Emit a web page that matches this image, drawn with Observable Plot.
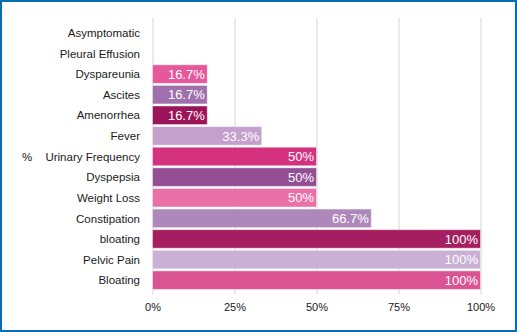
<!DOCTYPE html>
<html>
<head>
<meta charset="utf-8">
<script src="https://cdn.jsdelivr.net/npm/d3@7"></script>
<script src="https://cdn.jsdelivr.net/npm/@observablehq/plot@0.6"></script>
<style>
  html, body { margin: 0; padding: 0; background: #fff; }
  #wrap { position: relative; width: 517px; height: 332px; overflow: hidden; }
  #wrap svg { display: block; }
  #border { position: absolute; left: 0; top: 0; width: 517px; height: 332px; box-sizing: border-box; border: 2px solid #0a6db3; pointer-events: none; }
</style>
</head>
<body>
<div id="wrap"><div id="border"></div></div>
<script>
const categories = ["Asymptomatic", "Pleural Effusion", "Dyspareunia", "Ascites", "Amenorrhea", "Fever", "Urinary Frequency", "Dyspepsia", "Weight Loss", "Constipation", "bloating", "Pelvic Pain", "Bloating"];
const values = [0, 0, 16.7, 16.7, 16.7, 33.3, 50, 50, 50, 66.7, 100, 100, 100];
const valueLabels = ["", "", "16.7%", "16.7%", "16.7%", "33.3%", "50%", "50%", "50%", "66.7%", "100%", "100%", "100%"];
const colors = ["#e8559a", "#e8559a", "#e6579b", "#a070ad", "#9b1459", "#c4a0cc", "#d4317f", "#944f94", "#ea70a7", "#ae88bb", "#a51e60", "#cbb0d6", "#da5493"];
const xTicks = [0, 25, 50, 75, 100];
const xTickLabels = ["0%", "25%", "50%", "75%", "100%"];
const axisTitle = "%";
const titleRow = "Urinary Frequency";

const data = categories.map((c, i) => ({category: c, value: values[i], label: valueLabels[i], color: colors[i]}));

const font = "'Liberation Sans', Arial, Helvetica, sans-serif";

const chart = Plot.plot({
  width: 517,
  height: 332,
  marginLeft: 152.5,
  marginRight: 36.5,
  marginTop: 21.5,
  marginBottom: 40.5,
  style: {fontFamily: font, fontSize: "11px", color: "#222", background: "transparent"},
  x: {domain: [0, 100]},
  y: {domain: categories, padding: 0.1, round: false},
  marks: [
    Plot.ruleX(xTicks, {stroke: "#e3e3e3", strokeWidth: 1.5, insetTop: -3.5, insetBottom: -3}),
    Plot.barX(data, {y: "category", x: "value", fill: "color", stroke: "#fff", strokeOpacity: 0.45, strokeWidth: 1}),
    Plot.text(data.filter(d => d.label), {y: "category", x: "value", text: "label", fill: "white", textAnchor: "end", dx: -3, fontSize: 13}),
    Plot.axisY({tickSize: 0, tickPadding: 13, fontSize: 11.5, label: null, fill: "#1a1a1a"}),
    Plot.text([titleRow], {y: d => d, text: () => axisTitle, frameAnchor: "left", dx: -131, fontSize: 11.5, fill: "#1a1a1a", textAnchor: "start"}),
    Plot.axisX({ticks: xTicks, tickFormat: (d, i) => xTickLabels[i], tickSize: 0, tickPadding: 11, fontSize: 11, label: null, fill: "#1a1a1a"})
  ]
});
document.getElementById("wrap").prepend(chart);
</script>
</body>
</html>
